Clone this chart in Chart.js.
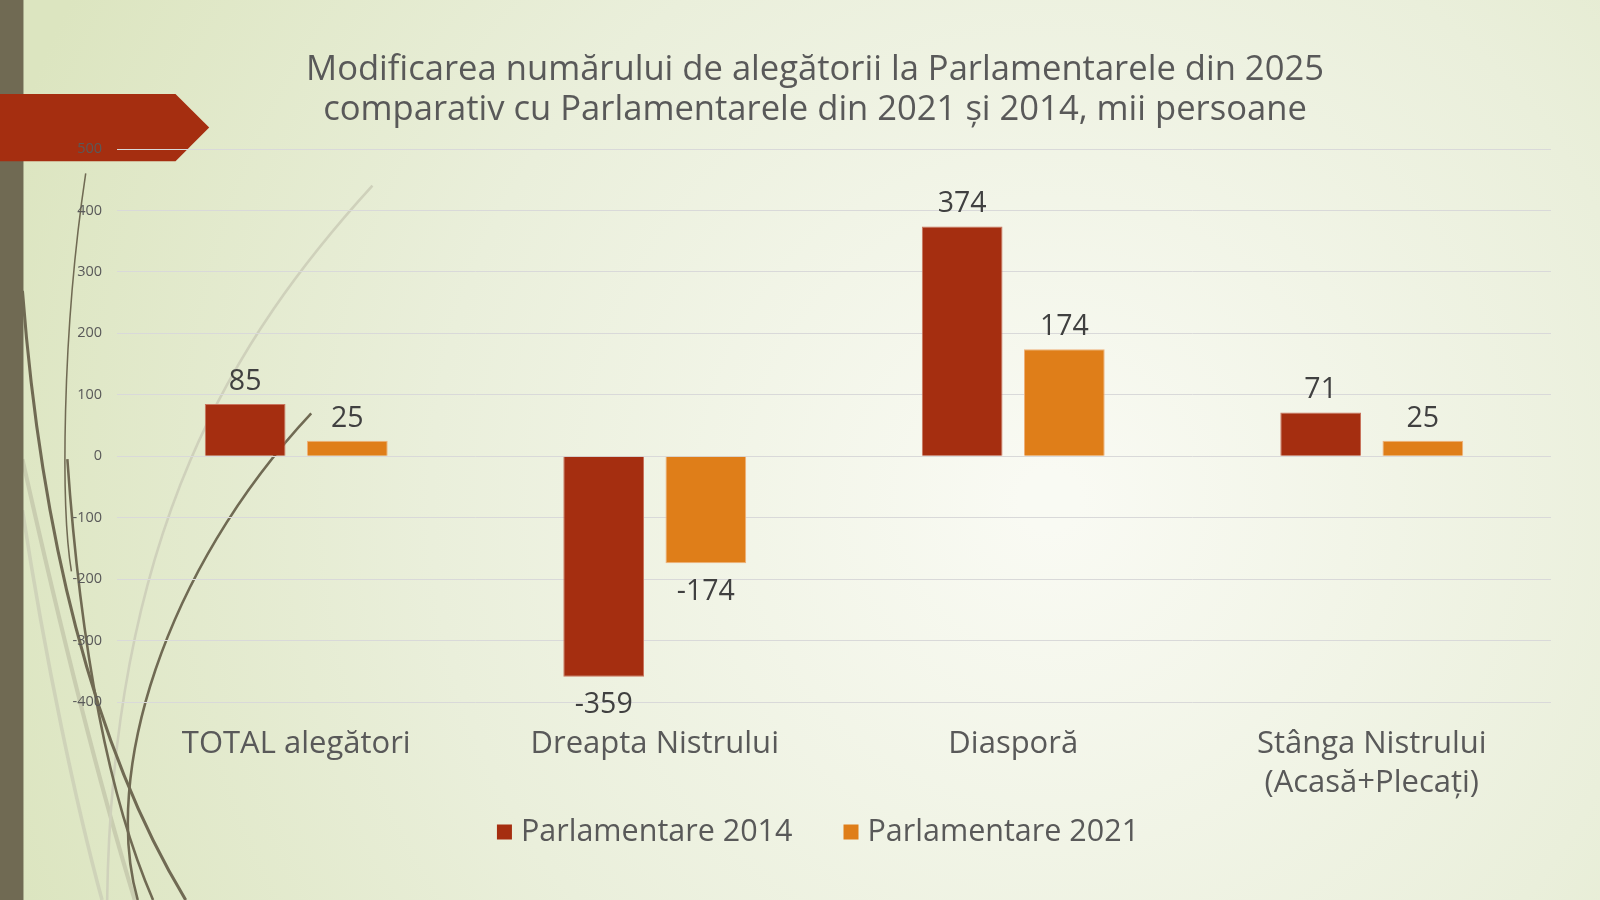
<!DOCTYPE html>
<html lang="ro">
<head>
<meta charset="utf-8">
<title>Modificarea numărului de alegători</title>
<script src="https://cdn.jsdelivr.net/npm/chart.js@4.4.1/dist/chart.umd.min.js"></script>
<style>
    html, body { margin: 0; padding: 0; width: 1600px; height: 900px; overflow: hidden; }
    #cutie { position: relative; width: 1600px; height: 900px; }
</style>
</head>
<body>
<div id="cutie"><canvas id="grafic"></canvas></div>
<script>
const categorii = ['TOTAL alegători', 'Dreapta Nistrului', 'Diasporă', ['Stânga Nistrului', '(Acasă+Plecați)']];
const valori2014 = [85, -359, 374, 71];
const valori2021 = [25, -174, 174, 25];
const etichetaSerii = ['Parlamentare 2014', 'Parlamentare 2021'];
const titlu = ['Modificarea numărului de alegătorii la Parlamentarele din 2025',
               'comparativ cu Parlamentarele din 2021 și 2014, mii persoane'];

const cores = {
    rosu: '#A52E10',
    portocaliu: '#DF7E19',
    text: '#595959',
    valori: '#404040',
    grila: '#D9D9D9'
};
const font = "'Open Sans', 'DejaVu Sans', sans-serif";

// fundal cu gradient, bara laterala, sageata si liniile decorative
const fundal = {
    id: 'fundal',
    beforeDraw(chart) {
        const c = chart.ctx;
        const w = chart.width, h = chart.height;
        c.save();
        const g = c.createRadialGradient(1050, 500, 30, 1050, 500, 1100);
        g.addColorStop(0, '#F9FAF3');
        g.addColorStop(0.55, '#EAEFDB');
        g.addColorStop(1, '#DCE5C0');
        c.fillStyle = g;
        c.fillRect(0, 0, w, h);

        const k = w / 1568;
        c.scale(k, k);

        const curba = (pts, culoare, grosime) => {
            c.beginPath();
            c.moveTo(pts[0], pts[1]);
            c.bezierCurveTo(pts[2], pts[3], pts[4], pts[5], pts[6], pts[7]);
            c.strokeStyle = culoare;
            c.lineWidth = grosime;
            c.stroke();
        };
        // linii deschise
        curba([22, 450, 60, 620, 95, 760, 132, 882], '#C9CDB0', 4);
        curba([22, 500, 45, 650, 75, 790, 100, 882], '#CFD3B9', 3.5);
        curba([365, 182, 230, 330, 110, 520, 105, 882], '#CFD1BB', 2.5);
        // linii inchise
        curba([84, 170, 60, 330, 60, 500, 70, 560], '#706A53', 1.5);
        curba([22, 285, 40, 520, 90, 730, 182, 882], '#706A53', 3);
        curba([66, 450, 80, 650, 110, 790, 150, 882], '#706A53', 2.5);
        curba([305, 405, 160, 560, 100, 760, 135, 882], '#706A53', 2.5);

        // bara verticala din stanga
        c.fillStyle = '#706A53';
        c.fillRect(0, 0, 23, 882);

        // sageata rosie
        c.beginPath();
        c.moveTo(0, 92);
        c.lineTo(172, 92);
        c.lineTo(205, 125);
        c.lineTo(172, 158);
        c.lineTo(0, 158);
        c.closePath();
        c.fillStyle = cores.rosu;
        c.fill();
        c.restore();
    }
};

// titlul pe doua randuri si legenda de jos
const titluSiLegenda = {
    id: 'titluSiLegenda',
    afterDraw(chart) {
        const c = chart.ctx;
        c.save();
        c.font = `34.6px ${font}`;
        c.fillStyle = cores.text;
        c.textAlign = 'center';
        c.textBaseline = 'middle';
        c.fillText(titlu[0], 815, 70);
        c.fillText(titlu[1], 815, 110);

        // legenda: patrat + text, centrata
        c.font = `30.5px ${font}`;
        c.textAlign = 'left';
        const patrat = 15, spatiu = 9, intre = 51;
        const seturi = chart.data.datasets;
        const latimi = seturi.map(ds => c.measureText(ds.label).width);
        let total = 0;
        latimi.forEach((lw, i) => { total += patrat + spatiu + lw + (i > 0 ? intre : 0); });
        let x = 818 - total / 2;
        const y = 832;
        seturi.forEach((ds, i) => {
            c.fillStyle = ds.backgroundColor;
            c.fillRect(x, y - patrat / 2, patrat, patrat);
            c.fillStyle = cores.text;
            c.fillText(ds.label, x + patrat + spatiu, y);
            x += patrat + spatiu + latimi[i] + intre;
        });
        c.restore();
    }
};

// valorile deasupra / sub bare
const valoriBare = {
    id: 'valoriBare',
    afterDatasetsDraw(chart) {
        const c = chart.ctx;
        c.save();
        c.font = `28.5px ${font}`;
        c.fillStyle = cores.valori;
        c.textAlign = 'center';
        chart.data.datasets.forEach((ds, i) => {
            const meta = chart.getDatasetMeta(i);
            meta.data.forEach((bara, j) => {
                const v = ds.data[j];
                if (v >= 0) {
                    c.textBaseline = 'bottom';
                    c.fillText(String(v), bara.x, bara.y - 8);
                } else {
                    c.textBaseline = 'top';
                    c.fillText(String(v), bara.x, bara.y + 14);
                }
            });
        });
        c.restore();
    }
};

const ctx = document.getElementById('grafic');
new Chart(ctx, {
    type: 'bar',
    data: {
        labels: categorii,
        datasets: [
            {
                label: etichetaSerii[0],
                data: valori2014,
                backgroundColor: cores.rosu,
                borderColor: '#C9755E',
                borderWidth: 1,
                barPercentage: 0.79,
                categoryPercentage: 0.57
            },
            {
                label: etichetaSerii[1],
                data: valori2021,
                backgroundColor: cores.portocaliu,
                borderColor: '#EFB27A',
                borderWidth: 1,
                barPercentage: 0.79,
                categoryPercentage: 0.57
            }
        ]
    },
    options: {
        responsive: true,
        maintainAspectRatio: false,
        animation: false,
        layout: {
            padding: { left: 0, right: 49, top: 149, bottom: 98 }
        },
        plugins: {
            title: { display: false },
            legend: { display: false },
            tooltip: { enabled: false }
        },
        scales: {
            x: {
                grid: { display: false, drawTicks: false },
                border: { display: false },
                ticks: {
                    color: cores.text,
                    font: { family: font, size: 31, lineHeight: 1.25 },
                    padding: 23,
                    maxRotation: 0
                },
                afterFit: (s) => { s.height = 100; }
            },
            y: {
                min: -400,
                max: 500,
                grid: { color: cores.grila, drawTicks: false },
                border: { display: false },
                ticks: {
                    stepSize: 100,
                    color: cores.text,
                    font: { family: font, size: 14.5 },
                    padding: 15
                },
                afterFit: (s) => { s.width = 117; }
            }
        }
    },
    plugins: [fundal, valoriBare, titluSiLegenda]
});
</script>
</body>
</html>
